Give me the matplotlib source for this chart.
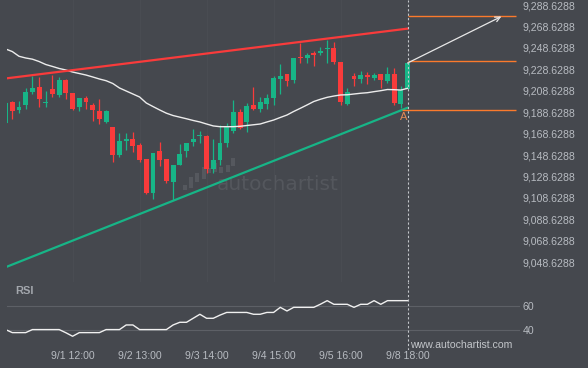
import numpy as np
import matplotlib.pyplot as plt

# candle data (index 0..60)
opens = [9178.8, 9198.1, 9191.0, 9195.6, 9207.8, 9212.1, 9197.2, 9210.3, 9205.0, 9218.7,
         9206.5, 9193.8, 9201.9, 9195.4, 9189.8, 9179.5, 9174.8, 9149.0, 9162.0, 9163.6,
         9158.0, 9144.7, 9113.3, 9152.4, 9145.0, 9123.8, 9139.4, 9152.4, 9160.8, 9166.4,
         9166.4, 9135.6, 9144.0, 9160.2, 9171.4, 9188.8, 9179.8, 9195.4, 9191.6, 9196.3,
         9202.2, 9219.9, 9224.3, 9218.7, 9239.8, 9239.5, 9243.6, 9244.1, 9247.3, 9248.2,
         9235.2, 9196.3, 9222.4, 9219.6, 9223.3, 9220.8, 9224.3, 9217.7, 9224.3, 9196.3,
         9210.0]
highs = [9198.0, 9199.4, 9199.4, 9210.9, 9222.7, 9221.2, 9208.1, 9223.6, 9221.2, 9219.3,
         9206.5, 9201.9, 9203.7, 9197.5, 9200.7, 9190.7, 9174.8, 9169.2, 9169.2, 9169.9,
         9159.6, 9144.7, 9150.6, 9160.6, 9145.0, 9139.4, 9159.0, 9160.2, 9172.7, 9171.1,
         9167.4, 9163.4, 9176.7, 9178.3, 9200.0, 9191.3, 9196.9, 9211.9, 9203.1, 9205.6,
         9222.4, 9233.3, 9224.3, 9238.9, 9253.5, 9244.1, 9245.7, 9249.2, 9256.0, 9253.8,
         9235.2, 9210.9, 9225.5, 9227.1, 9226.4, 9224.9, 9224.3, 9231.1, 9229.6, 9213.1,
         9234.2]
lows = [9178.5, 9182.6, 9187.6, 9191.3, 9205.9, 9193.8, 9193.8, 9203.1, 9203.1, 9200.7,
        9190.4, 9190.0, 9191.3, 9180.7, 9177.3, 9178.3, 9142.4, 9146.6, 9153.4, 9151.8,
        9142.4, 9112.3, 9107.4, 9138.4, 9122.3, 9106.7, 9139.4, 9146.6, 9156.8, 9159.6,
        9131.6, 9131.6, 9139.4, 9156.4, 9169.0, 9172.7, 9170.4, 9190.7, 9188.5, 9191.3,
        9195.4, 9205.6, 9213.1, 9216.2, 9234.8, 9234.2, 9232.0, 9242.0, 9234.2, 9233.6,
        9195.4, 9195.4, 9213.1, 9216.2, 9214.9, 9218.7, 9210.9, 9215.6, 9195.4, 9192.3,
        9210.0]
closes = [9197.5, 9190.0, 9193.5, 9207.5, 9211.2, 9200.7, 9198.1, 9205.6, 9218.7, 9206.8,
          9191.6, 9201.9, 9198.4, 9191.0, 9182.6, 9190.0, 9149.0, 9161.8, 9163.9, 9157.4,
          9144.0, 9113.3, 9150.6, 9144.0, 9124.5, 9139.4, 9149.6, 9160.2, 9163.6, 9167.6,
          9135.6, 9144.0, 9159.6, 9174.5, 9188.8, 9173.9, 9194.4, 9191.6, 9198.1, 9202.2,
          9220.5, 9222.4, 9218.0, 9238.9, 9238.9, 9242.0, 9242.3, 9246.0, 9248.2, 9235.7,
          9198.4, 9207.2, 9219.9, 9223.1, 9221.5, 9223.3, 9218.7, 9224.3, 9196.9, 9209.3,
          9234.2]
ma = [9247.6, 9245.2, 9240.8, 9239.2, 9238.1, 9235.9, 9233.1, 9231.3, 9229.4, 9228.0,
      9226.1, 9224.7, 9223.3, 9221.5, 9219.6, 9218.0, 9215.4, 9211.2, 9208.4, 9205.6,
      9202.8, 9197.2, 9193.9, 9190.7, 9187.7, 9185.5, 9184.0, 9182.5, 9180.9, 9179.5,
      9177.6, 9175.8, 9175.1, 9175.1, 9175.1, 9175.5, 9176.2, 9176.9, 9177.6, 9179.5,
      9181.3, 9183.7, 9186.0, 9189.3, 9192.3, 9195.4, 9198.6, 9200.7, 9202.5, 9203.7,
      9204.7, 9204.9, 9205.6, 9206.3, 9206.8, 9207.8, 9208.7, 9209.8, 9209.6, 9209.3,
      9210.9]
rsi = [40.6, 38.1, 38.1, 38.1, 40.6, 40.6, 40.6, 40.6, 40.6, 38.0,
       35.1, 38.1, 38.1, 38.1, 38.1, 40.6, 40.6, 40.6, 44.4, 44.4,
       40.6, 40.6, 40.6, 40.6, 40.6, 44.4, 46.6, 46.6, 49.9, 53.2,
       49.9, 49.9, 52.5, 54.7, 54.7, 54.7, 54.7, 53.2, 53.2, 54.7,
       54.7, 58.9, 55.9, 58.9, 58.9, 58.9, 58.9, 61.5, 64.4, 61.4,
       61.4, 61.4, 58.9, 61.4, 61.4, 64.4, 61.4, 64.4, 64.4, 64.4,
       64.4]

# pattern: (start idx, start price, end idx, end price)
resistance = (0, 9220.1, 60, 9266.6)
support = (0, 9044.0, 60, 9192.8)
target_levels = [9278.1, 9236.7, 9190.4]
target_starts = [60, 60, 59.1]
target_end = 76.2
arrow_from = (60, 9234.5)
arrow_to = (74, 9277.9)
point_a = (59.4, 9184.4)

# watermark logo bars
logo_x = [26.8, 27.7, 28.6, 29.6, 30.4, 31.3, 32.2, 33.2, 34.0]
logo_lo = [9116.1, 9117.6, 9123.8, 9126.0, 9131.6, 9133.1, 9131.6, 9133.1, 9138.4]
logo_hi = [9120.7, 9127.9, 9132.2, 9137.8, 9136.3, 9141.0, 9137.8, 9139.4, 9145.6]

tick_pos = [10, 20, 30, 40, 50, 60]
tick_labels = ["9/1 12:00", "9/2 13:00", "9/3 14:00", "9/4 15:00", "9/5 16:00", "9/8 18:00"]
price_ticks = [9048.6288 + 20 * k for k in range(13)]

BG = "#45484e"
GREEN = "#17b587"
RED = "#f93b3b"
ORANGE = "#fb7a2c"
TXT = "#b7bbc1"
plt.rcParams['font.family'] = ['Liberation Sans', 'DejaVu Sans']

fig = plt.figure(figsize=(5.88, 3.68), dpi=100, facecolor=BG)
W, H = 588, 368
ax = fig.add_axes([7 / W, 1 - 282 / H, 513 / W, 282 / H], facecolor=BG)
ax_r = fig.add_axes([7 / W, 1 - 350 / H, 513 / W, 68 / H], facecolor=BG, sharex=ax)

x = np.arange(len(opens))
o, h, l, c = map(np.array, (opens, highs, lows, closes))
up = c >= o
cols = np.where(up, GREEN, RED)
ax.vlines(x, l, h, colors=cols, lw=0.9, zorder=3)
body = np.maximum(np.abs(c - o), 0.9)
ax.bar(x, body, bottom=np.minimum(o, c), width=0.74, color=cols, zorder=4)

ax.plot(x, ma, color="#ececec", lw=1.0, zorder=5)
ax.plot([resistance[0], resistance[2]], [resistance[1], resistance[3]], color=RED, lw=1.6, zorder=6)
ax.plot([support[0], support[2]], [support[1], support[3]], color=GREEN, lw=1.6, zorder=6)
for lev, s in zip(target_levels, target_starts):
    ax.hlines(lev, s, target_end, color=ORANGE, lw=1.0, zorder=6)
ax.annotate("", xy=arrow_to, xytext=arrow_from,
            arrowprops=dict(arrowstyle="->", color="#e8e8e8", lw=0.9,
                            shrinkA=0, shrinkB=0, mutation_scale=9), zorder=7)
ax.text(*point_a, "A", color="#e38a55", fontsize=8, ha="center", va="center", zorder=7)

# watermark
ax.bar(logo_x, np.array(logo_hi) - np.array(logo_lo), bottom=logo_lo, width=0.6,
       color="#55585e", zorder=1)
ax.text(40.6, 9120.7, "autochartist", color="#54575d", fontsize=14.5, ha="center",
        va="center", zorder=1, family="DejaVu Sans")

ax.set_xlim(0.21, 76.78)
ax.set_ylim(9030.2, 9293.3)
ax.set_yticks(price_ticks)
ax.set_yticklabels([f"{v:,.4f}" for v in price_ticks])
ax.yaxis.tick_right()
ax.tick_params(axis="y", length=0, pad=2, labelsize=7.6, labelcolor=TXT)
ax.tick_params(axis="x", length=0, labelbottom=False)
ax.set_xticks(tick_pos)
ax.grid(axis="x", color="#4a4d53", lw=0.7)
ax.axvline(60, color="#c4c7cb", lw=0.8, ls=(0, (2, 2)), zorder=8)

# RSI panel
ax_r.plot(x, rsi, color="#f0f0f0", lw=1.0, zorder=5)
ax_r.set_ylim(23.8, 79.75)
ax_r.set_yticks([40, 60])
ax_r.yaxis.tick_right()
ax_r.grid(axis="y", color="#5d6066", lw=0.8)
ax_r.tick_params(axis="y", length=0, pad=2, labelsize=7.6, labelcolor=TXT)
ax_r.set_xticks(tick_pos)
ax_r.set_xticklabels(tick_labels)
ax_r.tick_params(axis="x", length=0, pad=1, labelsize=7.6, labelcolor=TXT)
ax_r.axvline(60, color="#c4c7cb", lw=0.8, ls=(0, (2, 2)), zorder=8)
ax_r.text(8 / 513, 59 / 68, "RSI", transform=ax_r.transAxes, color="#a3a7ad",
          fontsize=8, fontweight="bold", va="center", ha="left")

for a in (ax, ax_r):
    for s in a.spines.values():
        s.set_visible(False)

fig.text(410 / W, 1 - 345 / H, "www.autochartist.com", color="#c3c6ca", fontsize=7.6,
         ha="left", va="center")

fig.savefig("out.png", dpi=100, facecolor=BG)
